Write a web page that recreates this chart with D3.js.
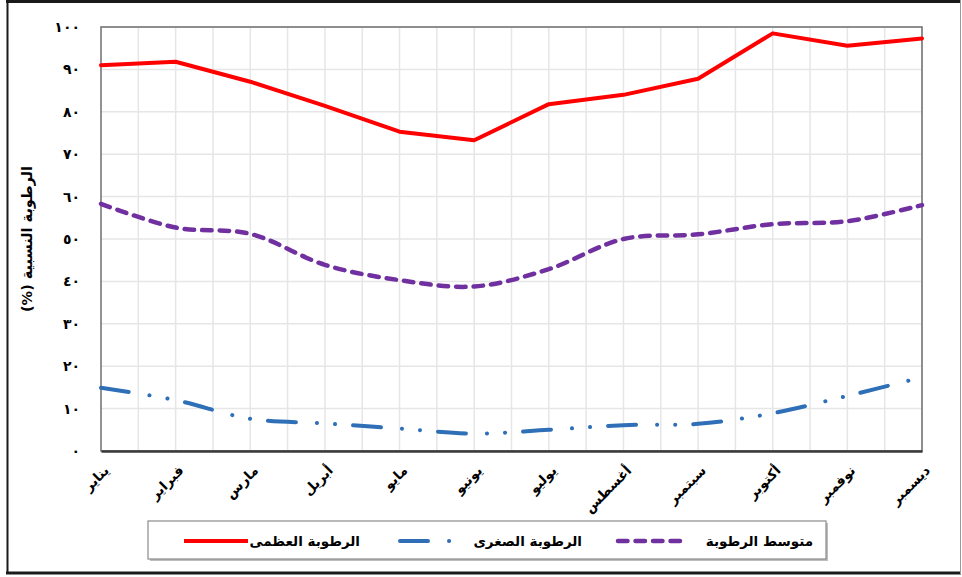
<!DOCTYPE html>
<html>
<head>
<meta charset="utf-8">
<script src="https://cdn.jsdelivr.net/npm/d3@7"></script>
<style>
  html, body { margin: 0; padding: 0; background: #fff; }
  svg { display: block; }
  text { font-family: "DejaVu Sans", Arial, sans-serif; font-weight: bold; fill: #000; }
</style>
</head>
<body>
<svg id="chart" width="962" height="577"></svg>
<script>
// ---- data ----
const months = ["يناير","فبراير","مارس","أبريل","مايو","يونيو","يوليو","أغسطس","سبتمبر","أكتوبر","نوفمبر","ديسمبر"];
const maxHumidity  = [91.0, 91.8, 87.1, 81.4, 75.3, 73.3, 81.8, 84.0, 87.8, 98.5, 95.6, 97.3];
const minHumidity  = [14.9, 12.0, 7.6, 6.5, 5.3, 4.1, 5.0, 6.1, 6.4, 8.9, 13.0, 17.4];
const meanHumidity = [58.3, 52.7, 51.2, 43.9, 40.3, 38.8, 42.9, 50.0, 51.1, 53.5, 54.2, 58.0];
const yTickValues = [0,10,20,30,40,50,60,70,80,90,100];
const yTickLabels = ["٠","١٠","٢٠","٣٠","٤٠","٥٠","٦٠","٧٠","٨٠","٩٠","١٠٠"];
const yTitle = "الرطوبة النسبية (%)";
const seriesNames = ["الرطوبة العظمى", "الرطوبة الصغرى", "متوسط الرطوبة"];

const svg = d3.select("#chart");
const W = 962, H = 577;
const plot = { left: 101, right: 922, top: 27, bottom: 451 };

svg.append("rect").attr("width", W).attr("height", H).attr("fill", "#fff");

// outer frame
const frame = svg.append("g");
frame.append("line").attr("x1", 6).attr("x2", 960).attr("y1", 1.5).attr("y2", 1.5).attr("stroke", "#1a1a1a").attr("stroke-width", 3);
frame.append("line").attr("x1", 7.5).attr("x2", 7.5).attr("y1", 0).attr("y2", 574).attr("stroke", "#1a1a1a").attr("stroke-width", 2);
frame.append("line").attr("x1", 6).attr("x2", 961).attr("y1", 573).attr("y2", 573).attr("stroke", "#1a1a1a").attr("stroke-width", 3);
frame.append("line").attr("x1", 960.5).attr("x2", 960.5).attr("y1", 0).attr("y2", 574).attr("stroke", "#9a9a9a").attr("stroke-width", 1);

const x = d3.scalePoint().domain(months).range([plot.left, plot.right]).padding(0);
const y = d3.scaleLinear().domain([0, 100]).range([plot.bottom, plot.top]);

// gridlines
const grid = svg.append("g");
grid.selectAll("line.h").data(yTickValues.slice(1)).join("line")
  .attr("x1", plot.left).attr("x2", plot.right)
  .attr("y1", d => y(d)).attr("y2", d => y(d))
  .attr("stroke", "#e6e6e6").attr("stroke-width", 1.5);
const step = x.step();
const vPos = [];
months.forEach((m, i) => { vPos.push(x(m)); if (i < months.length - 1) vPos.push(x(m) + step / 2); });
grid.selectAll("line.v").data(vPos.slice(1)).join("line")
  .attr("x1", d => d).attr("x2", d => d)
  .attr("y1", plot.top).attr("y2", plot.bottom)
  .attr("stroke", "#e6e6e6").attr("stroke-width", 1.5);

// plot border
svg.append("rect")
  .attr("x", plot.left).attr("y", plot.top)
  .attr("width", plot.right - plot.left).attr("height", plot.bottom - plot.top)
  .attr("fill", "none").attr("stroke", "#6f6f6f").attr("stroke-width", 1.5);

// y axis
const yAxis = d3.axisLeft(y).tickValues(yTickValues)
  .tickFormat((d, i) => yTickLabels[i]).tickSize(0).tickPadding(21);
const yg = svg.append("g").attr("transform", `translate(${plot.left},0)`).call(yAxis);
yg.select(".domain").remove();
yg.selectAll("text").style("font-size", "14px").style("letter-spacing", "1.5px")
  .style("font-family", "'DejaVu Sans', sans-serif").style("font-weight", "bold");

// x axis
const xAxis = d3.axisBottom(x).tickSize(0).tickPadding(0);
const xg = svg.append("g").attr("transform", `translate(0,${plot.bottom})`).call(xAxis);
xg.select(".domain").attr("stroke", "#3a3a3a").attr("stroke-width", 2.5);
xg.selectAll("text")
  .style("font-size", "13.5px").style("font-weight", "bold")
  .attr("text-anchor", "end")
  .attr("dy", "0.35em")
  .attr("y", 0)
  .attr("transform", "translate(5,17) rotate(-45)");

// y title
svg.append("text")
  .attr("transform", `translate(27,${(plot.top + plot.bottom) / 2}) rotate(-90)`)
  .attr("text-anchor", "middle").attr("dy", "0.35em")
  .attr("direction", "rtl")
  .style("direction", "rtl")
  .style("unicode-bidi", "embed")
  .style("font-size", "14.5px")
  .text(yTitle);

// lines
const lineLinear = d3.line().x((d, i) => x(months[i])).y(d => y(d));
const lineSmooth = d3.line().x((d, i) => x(months[i])).y(d => y(d)).curve(d3.curveCatmullRom.alpha(0.5));

const series = [
  { values: maxHumidity, color: "#ff0000", dash: null, cap: "round", gen: lineLinear, width: 4 },
  { values: minHumidity, color: "#2e6fb7", dash: "28,21,0.1,18,0.1,18", cap: "round", gen: lineSmooth, width: 4 },
  { values: meanHumidity, color: "#7030a0", dash: "9.5,8", cap: "round", gen: lineSmooth, width: 4.5 }
];
series.forEach(s => {
  svg.append("path").datum(s.values)
    .attr("d", s.gen)
    .attr("fill", "none")
    .attr("stroke", s.color)
    .attr("stroke-width", s.width)
    .attr("stroke-linecap", s.cap)
    .attr("stroke-linejoin", "round")
    .attr("stroke-dasharray", s.dash);
});

// legend
const lg = svg.append("g");
lg.append("rect").attr("x", 150).attr("y", 523).attr("width", 678).attr("height", 38)
  .attr("fill", "#bdbdbd");
lg.append("rect").attr("x", 148).attr("y", 521).attr("width", 678).attr("height", 38)
  .attr("fill", "#fff").attr("stroke", "#8a8a8a").attr("stroke-width", 1.2);
const legendItems = [
  { name: seriesNames[0], s: series[0], x1: 184, x2: 248, tx: 360 },
  { name: seriesNames[1], s: series[1], x1: 400, x2: 462, tx: 582 },
  { name: seriesNames[2], s: series[2], x1: 618, x2: 684, tx: 813 }
];
const ly = 541;
legendItems.forEach(it => {
  lg.append("line").attr("x1", it.x1).attr("x2", it.x2).attr("y1", ly).attr("y2", ly)
    .attr("stroke", it.s.color).attr("stroke-width", it.s.width)
    .attr("stroke-linecap", it.s.dash ? "round" : "butt")
    .attr("stroke-dasharray", it.s.dash);
  lg.append("text").attr("x", it.tx).attr("y", ly).attr("dy", "0.35em")
    .attr("text-anchor", "end").style("font-size", "13.5px").text(it.name);
});
</script>
</body>
</html>
